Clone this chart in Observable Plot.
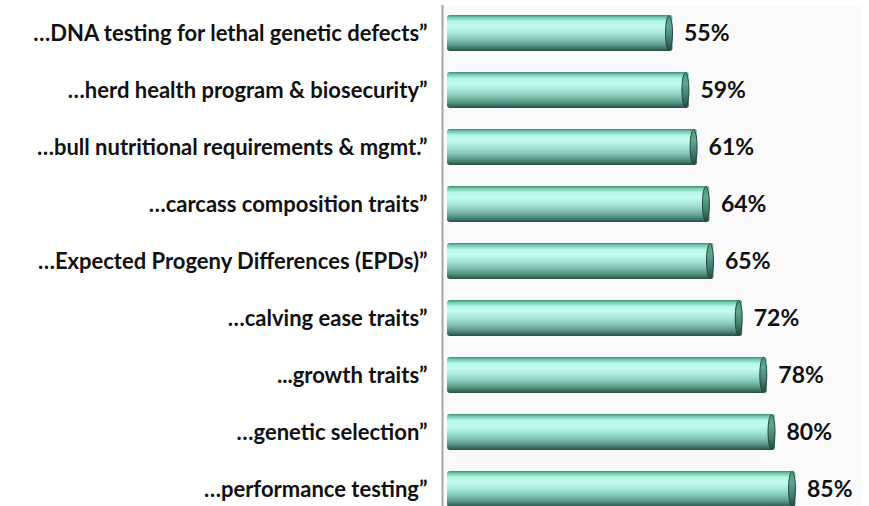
<!DOCTYPE html>
<html>
<head>
<meta charset="utf-8">
<script src="https://cdn.jsdelivr.net/npm/d3@7"></script>
<script src="https://cdn.jsdelivr.net/npm/@observablehq/plot@0.6"></script>
<style>
  html, body { margin: 0; padding: 0; background: #ffffff; }
  #chart { width: 869px; height: 506px; overflow: hidden; }
</style>
</head>
<body>
<div id="chart"></div>
<script>
const categories = [
  "…DNA testing for lethal genetic defects”",
  "…herd health program & biosecurity”",
  "…bull nutritional requirements & mgmt.”",
  "…carcass composition traits”",
  "…Expected Progeny Differences (EPDs)”",
  "…calving ease traits”",
  "...growth traits”",
  "…genetic selection”",
  "…performance testing”"
];
const values = [55, 59, 61, 64, 65, 72, 78, 80, 85];

const data = categories.map((label, i) => ({label, value: values[i]}));

const chart = Plot.plot({
  width: 869,
  height: 506,
  marginLeft: 442,
  marginRight: 7,
  marginTop: 5,
  marginBottom: 0,
  style: {fontFamily: "Lato, 'Open Sans', sans-serif", background: "transparent", overflow: "visible"},
  x: {domain: [0, 100], range: [447, 857], axis: null},
  y: {domain: categories, range: [-6, 528], padding: 0.37, round: false},
  marks: [
    Plot.frame({fill: "#fafafa", stroke: null}),
    Plot.ruleX([0], {dx: -5, stroke: "#a6a6a6", strokeWidth: 2}),
    Plot.barX(data, {x: "value", y: "label", fill: "url(#cyl)", rx: 3}),
    Plot.text(data, {
      x: "value", y: "label", text: d => d.value + "%",
      dx: 11, textAnchor: "start", fontSize: 23, fontWeight: "bold", fill: "#111111"
    }),
    Plot.axisY({tickSize: 0, tickPadding: 15, fontSize: 22, fontWeight: "bold", label: null, color: "#111111"})
  ]
});

// gradients
const svg = d3.select(chart);
const defs = svg.insert("defs", ":first-child");
const g1 = defs.append("linearGradient").attr("id", "cyl")
  .attr("x1", 0).attr("y1", 0).attr("x2", 0).attr("y2", 1);
[
  [0, "#3f8876"], [0.06, "#72c6ae"], [0.18, "#b4f7e4"], [0.32, "#c4fcec"],
  [0.5, "#a6e8d4"], [0.68, "#84c6b2"], [0.84, "#5a9886"], [0.95, "#38695c"], [1, "#284c42"]
].forEach(([o, c]) => g1.append("stop").attr("offset", o).attr("stop-color", c));
const g2 = defs.append("linearGradient").attr("id", "cap")
  .attr("x1", 0).attr("y1", 0).attr("x2", 0).attr("y2", 1);
[
  [0, "#4f9a86"], [0.3, "#5fa894"], [0.7, "#3f7a6a"], [1, "#264a40"]
].forEach(([o, c]) => g2.append("stop").attr("offset", o).attr("stop-color", c));

// end caps drawn from the bars the library positioned
svg.select('g[aria-label="bar"]').selectAll("rect").each(function () {
  const r = d3.select(this);
  const x = +r.attr("x"), y = +r.attr("y"), w = +r.attr("width"), h = +r.attr("height");
  d3.select(this.parentNode).append("ellipse")
    .attr("cx", x + w - 3.5).attr("cy", y + h / 2)
    .attr("rx", 3.5).attr("ry", h / 2 - 0.5)
    .attr("fill", "url(#cap)").attr("stroke", "#24483f").attr("stroke-width", 1);
});

document.getElementById("chart").appendChild(chart);
</script>
</body>
</html>
